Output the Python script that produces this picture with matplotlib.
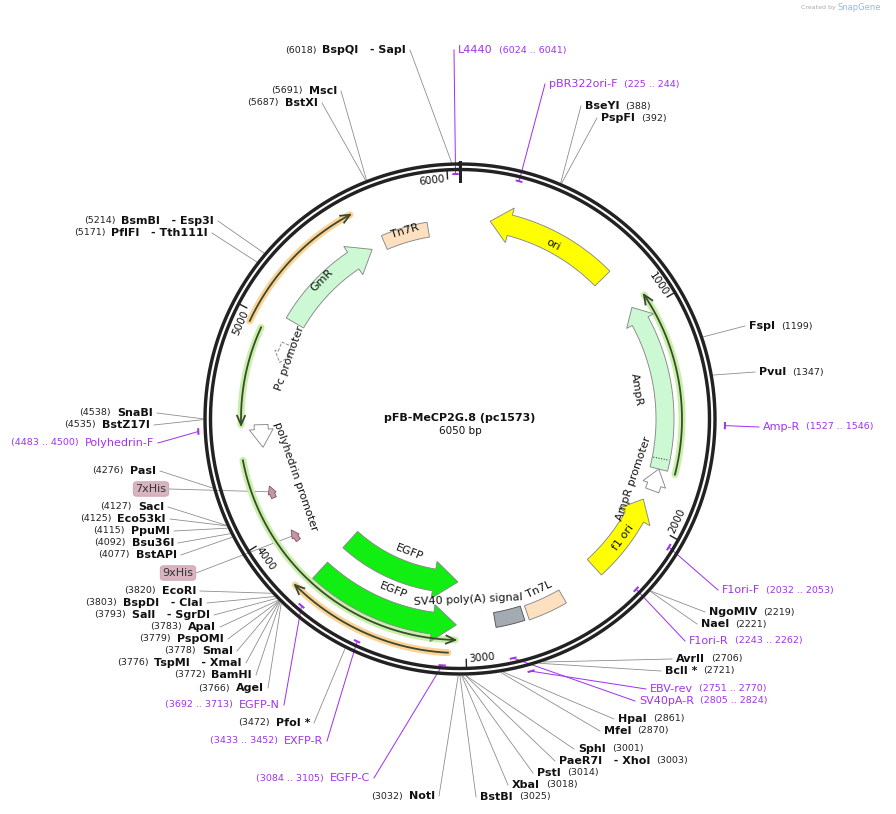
import numpy as np
import matplotlib
matplotlib.use("Agg")
import matplotlib.pyplot as plt
from matplotlib.patches import Polygon

TOTAL = 6050
TITLE = "pFB-MeCP2G.8 (pc1573)"
SUBTITLE = "6050 bp"

# ---------------- data ----------------
feat_names = ["ori", "AmpR", "AmpR promoter", "f1 ori", "Tn7L", "SV40 poly(A) signal",
              "EGFP", "EGFP", "GmR", "Tn7R", "Pc promoter", "polyhedrin promoter"]
feat_start = [146, 958, 1750, 1909, 2520, 2725, 3037, 3042, 5045, 5660, 4830, 4400]
feat_end = [763, 1750, 1855, 2316, 2705, 2860, 3736, 3744, 5590, 5890, 4930, 4510]
feat_dir = [-1, -1, -1, -1, 0, 0, -1, -1, 1, 0, -1, -1]
feat_color = ["#ffff00", "#ccf9d3", "#ffffff", "#ffff00", "#fde0c0", "#a4aab2",
              "#11ee11", "#11ee11", "#ccf9d3", "#fde0c0", "#ffffff", "#ffffff"]

line_start = [3046, 4512, 941, 4958, 3075]
line_end = [4356, 4953, 1756, 5574, 3778]
line_dir = [-1, -1, -1, 1, 1]
line_halo = ["#c8f0a8", "#c8f0a8", "#c8f0a8", "#fdd295", "#fdd295"]

his_names = ["7xHis", "9xHis"]
his_pos = [4182, 3948]

enz_names = ["BspQI   - SapI", "MscI", "BstXI", "BsmBI   - Esp3I", "PflFI   - Tth111I",
             "SnaBI", "BstZ17I", "PasI", "SacI", "Eco53kI", "PpuMI", "Bsu36I", "BstAPI",
             "EcoRI", "BspDI   - ClaI", "SalI   - SgrDI", "ApaI", "PspOMI", "SmaI",
             "TspMI   - XmaI", "BamHI", "AgeI", "PfoI *", "NotI",
             "BseYI", "PspFI", "FspI", "PvuI", "NgoMIV", "NaeI", "AvrII", "BclI *",
             "HpaI", "MfeI", "SphI", "PaeR7I   - XhoI", "PstI", "XbaI", "BstBI"]
enz_sites = [6018, 5691, 5687, 5214, 5171,
             4538, 4535, 4276, 4127, 4125, 4115, 4092, 4077,
             3820, 3803, 3793, 3783, 3779, 3778,
             3776, 3772, 3766, 3472, 3032,
             388, 392, 1199, 1347, 2219, 2221, 2706, 2721,
             2861, 2870, 3001, 3003, 3014, 3018, 3025]

primer_names = ["L4440", "pBR322ori-F", "Amp-R", "F1ori-F", "F1ori-R", "EBV-rev", "SV40pA-R",
                "EGFP-C", "EXFP-R", "EGFP-N", "Polyhedrin-F"]
primer_start = [6024, 225, 1527, 2032, 2243, 2751, 2805, 3084, 3433, 3692, 4483]
primer_end = [6041, 244, 1546, 2053, 2262, 2770, 2824, 3105, 3452, 3713, 4500]

tick_values = [1000, 2000, 3000, 4000, 5000, 6000]

# ---------------- layout ----------------
CX, CY = 460, 419
R_OUT, R_IN = 255, 249.5
enz_anchor = [(406, 50, 'L'), (337, 91, 'L'), (318, 103, 'L'), (214, 221, 'L'), (208, 233, 'L'),
              (153, 413, 'L'), (150, 425, 'L'), (156, 471, 'L'), (164, 507, 'L'), (166, 519, 'L'),
              (170, 531, 'L'), (174, 543, 'L'), (177, 555, 'L'),
              (196, 591, 'L'), (203, 603, 'L'), (210, 615, 'L'), (216, 627, 'L'), (224, 639, 'L'),
              (233, 651, 'L'), (242, 663, 'L'), (252, 675, 'L'), (264, 688, 'L'), (310, 723, 'L'),
              (435, 796, 'L'),
              (585, 106, 'R'), (601, 118, 'R'), (749, 326, 'R'), (759, 372, 'R'), (709, 612, 'R'),
              (701, 624, 'R'), (676, 659, 'R'), (665, 671, 'R'), (618, 719, 'R'), (604, 731, 'R'),
              (578, 749, 'R'), (559, 761, 'R'), (537, 773, 'R'), (512, 785, 'R'), (480, 797, 'R')]
primer_anchor = [(458, 50, 'R'), (549, 84, 'R'), (763, 427, 'R'), (722, 590, 'R'), (689, 641, 'R'),
                 (650, 689, 'R'), (639, 701, 'R'), (370, 778, 'L'), (323, 741, 'L'), (280, 705, 'L'),
                 (154, 443, 'L')]
primer_r = [245, 245, 265, 245, 245, 262, 245, 247, 245, 245, 262]

feat_r = [200, 205, 205, 200, 205, 204, 163, 206, 191, 192, 189, 199]
feat_w = [21, 18, 14, 21, 15, 15, 22, 22, 20, 15, 10, 14]
feat_head = [20, 16, 16, 20, 0, 0, 24, 24, 22, 0, 10, 18]
line_r = [221, 219, 222, 232, 234]

fig = plt.figure(figsize=(8.96, 8.14), dpi=100)
ax = fig.add_axes([0, 0, 1, 1])
ax.set_xlim(0, 896)
ax.set_ylim(814, 0)
ax.axis("off")

PT = 0.72


def ang(bp):
    return np.deg2rad(bp / TOTAL * 360.0)


def pt(bp, r):
    t = ang(bp)
    return CX + r * np.sin(t), CY - r * np.cos(t)


def px2bp(px, r):
    return px / (2 * np.pi * r) * TOTAL


def tang_rot(x, y):
    th = np.degrees(np.arctan2(x - CX, -(y - CY))) % 360
    rot = -th
    if 90 < th < 270:
        rot += 180
    return rot


tt = np.linspace(0, TOTAL, 800)
for rr in (R_OUT, R_IN):
    xs, ys = zip(*[pt(b, rr) for b in tt])
    ax.plot(xs, ys, color="#222222", lw=3.4 * PT, zorder=3)

for tv in tick_values:
    x0, y0 = pt(tv, R_IN - 1)
    x1, y1 = pt(tv, R_IN - 9)
    ax.plot([x0, x1], [y0, y1], color="#222", lw=1.4 * PT, zorder=3)
    lx, ly = pt(tv - px2bp(16, 243), 240)
    ax.text(lx, ly, str(tv), fontsize=7.5, ha="center", va="center",
            rotation=tang_rot(lx, ly), rotation_mode="anchor", color="#111")
x0, y0 = pt(0, R_OUT + 2)
x1, y1 = pt(0, R_IN - 11)
ax.plot([x0, x1], [y0, y1], color="#222", lw=3 * PT, zorder=4)


def arc_arrow(b0, b1, r, w, head_px, d, fc, ec="#777777", ls="-"):
    hb = px2bp(head_px, r) if d != 0 else 0
    hw = w * 0.85
    if d == 1:
        body = np.linspace(b0, b1 - hb, 60)
        outer = [pt(b, r + w / 2) for b in body]
        inner = [pt(b, r - w / 2) for b in body[::-1]]
        head = [pt(b1 - hb, r + hw), pt(b1, r), pt(b1 - hb, r - hw)]
        poly = outer + head + inner
    elif d == -1:
        body = np.linspace(b0 + hb, b1, 60)
        outer = [pt(b, r + w / 2) for b in body]
        inner = [pt(b, r - w / 2) for b in body[::-1]]
        head = [pt(b0 + hb, r - hw), pt(b0, r), pt(b0 + hb, r + hw)]
        poly = outer + inner + head
    else:
        body = np.linspace(b0, b1, 30)
        poly = [pt(b, r + w / 2) for b in body] + [pt(b, r - w / 2) for b in body[::-1]]
    ax.add_patch(Polygon(poly, closed=True, fc=fc, ec=ec, lw=0.9 * PT, ls=ls, zorder=5))


for i in range(len(feat_names)):
    ec = "#555555" if feat_names[i] == "SV40 poly(A) signal" else "#888888"
    ls = "--" if feat_names[i] == "Pc promoter" else "-"
    arc_arrow(feat_start[i], feat_end[i], feat_r[i], feat_w[i], feat_head[i], feat_dir[i],
              feat_color[i], ec=ec, ls=ls)

xa, ya = pt(1700, feat_r[1] - 8)
xb, yb = pt(1700, feat_r[1] + 8)
ax.plot([xa, xb], [ya, yb], color="#222", lw=1 * PT, ls=":", zorder=6)

for hp in his_pos:
    arc_arrow(hp - 30, hp + 30, 202, 5, 8, 1, "#c497a8", ec="#8a5a6a")

for i in range(len(line_start)):
    bb = np.linspace(line_start[i], line_end[i], 200)
    xs, ys = zip(*[pt(b, line_r[i]) for b in bb])
    ax.plot(xs, ys, color=line_halo[i], lw=7 * PT, solid_capstyle="round", zorder=4)
    ax.plot(xs, ys, color="#3a4a30", lw=1.8 * PT, zorder=5)
    tip = line_end[i] if line_dir[i] == 1 else line_start[i]
    back = tip - line_dir[i] * px2bp(9, line_r[i])
    hx = [pt(back, line_r[i] + 4), pt(tip, line_r[i]), pt(back, line_r[i] - 4)]
    ax.plot([p[0] for p in hx], [p[1] for p in hx], color="#3a4a30", lw=1.8 * PT, zorder=5)

flab = [("ori", 553, 245), ("Tn7R", 405, 231), ("GmR", 322, 280), ("Pc promoter", 290, 358),
        ("polyhedrin promoter", 296, 476), ("AmpR", 637, 390), ("AmpR promoter", 634, 479),
        ("f1 ori", 623, 538), ("EGFP", 409, 552), ("EGFP", 393, 590),
        ("SV40 poly(A) signal", 468, 600), ("Tn7L", 539, 590)]
for name, x, y in flab:
    ax.text(x, y, name, fontsize=8, ha="center", va="center", rotation=tang_rot(x, y),
            rotation_mode="anchor", color="#111", zorder=7)

ax.text(CX, 418, TITLE, fontsize=8, weight="bold", ha="center", va="center", color="#111")
ax.text(CX, 431, SUBTITLE, fontsize=7.5, ha="center", va="center", color="#111")
ax.text(836, 7, "Created by", fontsize=4.5, color="#aaaaaa", ha="right", va="center")
ax.text(838, 7, "SnapGene", fontsize=6, color="#9ab8d8", ha="left", va="center")

fig.canvas.draw()
renderer = fig.canvas.get_renderer()


def width(s, **kw):
    t = ax.text(0, 0, s, **kw)
    w = t.get_window_extent(renderer).width
    t.remove()
    return w


def composite(x, y, side, parts):
    gap = 6
    ws = [width(s, **k) for s, k in parts]
    total = sum(ws) + gap * (len(parts) - 1)
    xs = x - total if side == 'L' else x
    for (s, k), w in zip(parts, ws):
        ax.text(xs, y, s, ha="left", va="center", **k)
        xs += w + gap
    return (x + 4, y) if side == 'L' else (x - 4, y)


NUM = dict(fontsize=6.8, color="#222")
BOLD = dict(fontsize=8, weight="bold", color="#111")
PURP = dict(fontsize=8, color="#a033ee")
PURPN = dict(fontsize=6.8, color="#a033ee")

for name, site, (x, y, side) in zip(enz_names, enz_sites, enz_anchor):
    num = f"({site})"
    parts = [(num, NUM), (name, BOLD)] if side == 'L' else [(name, BOLD), (num, NUM)]
    cx_, cy_ = composite(x, y, side, parts)
    rx, ry = pt(site, R_OUT + 2)
    ax.plot([cx_, rx], [cy_, ry], color="#8a8a8a", lw=0.8 * PT, zorder=2)

for i, name in enumerate(primer_names):
    x, y, side = primer_anchor[i]
    num = f"({primer_start[i]} .. {primer_end[i]})"
    parts = [(num, PURPN), (name, PURP)] if side == 'L' else [(name, PURP), (num, PURPN)]
    cx_, cy_ = composite(x, y, side, parts)
    r = primer_r[i]
    bb = np.linspace(primer_start[i], primer_end[i], 10)
    xs, ys = zip(*[pt(b, r) for b in bb])
    ax.plot(xs, ys, color="#a033ee", lw=2 * PT, zorder=6)
    mx, my = pt((primer_start[i] + primer_end[i]) / 2, r)
    ax.plot([cx_, mx], [cy_, my], color="#a033ee", lw=1 * PT, zorder=2)

his_box = [(151, 489), (178, 573)]
for name, hp, (x, y) in zip(his_names, his_pos, his_box):
    ax.text(x, y, name, fontsize=8, ha="center", va="center", color="#333",
            bbox=dict(boxstyle="round,pad=0.2,rounding_size=0.3", fc="#d8b4c0", ec="#c9a0b0", lw=0.6),
            zorder=6)
    fx, fy = pt(hp, 202)
    ax.plot([x + 18, fx], [y, fy], color="#8a8a8a", lw=0.8 * PT, zorder=2)

fig.savefig("out.png", dpi=100)
